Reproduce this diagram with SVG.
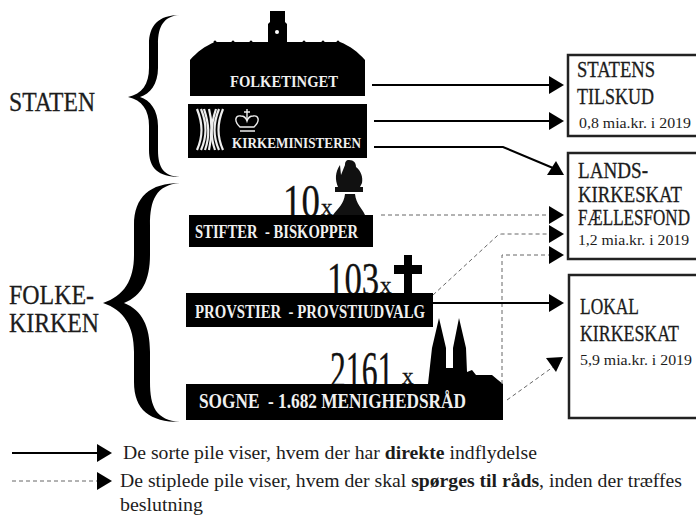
<svg xmlns="http://www.w3.org/2000/svg" width="696" height="515" viewBox="0 0 696 515">
<style>
text{font-family:"Liberation Serif","DejaVu Serif",serif;fill:#1c1c1c}
.w{fill:#f0f0f0;font-weight:bold}
.side{font-size:28px;stroke:#1c1c1c;stroke-width:.3}
.big{font-size:24px;stroke:#1c1c1c;stroke-width:.3}
.small{font-size:15px}
.num{fill:#111;stroke:#111;stroke-width:.3}
.leg{font-size:18px}
.box{fill:#fff;stroke:#222;stroke-width:2.5}
.solid{fill:none;stroke:#000;stroke-width:2}
.dash{fill:none;stroke:#666;stroke-width:1;stroke-dasharray:4 3}
.head{fill:#000}
</style>
<defs>
<marker id="ah" markerUnits="userSpaceOnUse" markerWidth="16" markerHeight="20" refX="1" refY="9" orient="auto"><path d="M0 0L15 9L0 18Z" fill="#000"/></marker>
</defs>
<rect width="696" height="515" fill="#fff"/>
<g id="staten"><text class="side" x="9" y="111" textLength="86" lengthAdjust="spacingAndGlyphs">STATEN</text>
<path d="M180 15C164 16 158 26 158 44V68C158 84 150 94 140 97C150 100 158 110 158 126V150C158 168 164 176 180 177C158 177 149 168 149 150V126C149 110 142 100 128 97C142 94 149 84 149 68V44C149 26 158 15 180 15Z" fill="#000"/></g>
<g id="folkekirken"><text class="side" x="9" y="304" textLength="85" lengthAdjust="spacingAndGlyphs">FOLKE-</text><text class="side" x="9" y="332" textLength="90" lengthAdjust="spacingAndGlyphs">KIRKEN</text>
<path d="M180 183C156 185 150 200 150 225V255C150 280 142 296 124 303C142 310 150 326 150 352V382C150 407 156 420 180 422C150 422 134 410 134 382V352C134 326 124 310 103 303C124 296 134 280 134 255V225C134 197 150 183 180 183Z" fill="#000"/></g>
<g id="folketinget">
<path d="M270 11H285V22L287 24V42H340C350 46 358 52 365 60V96H190V60C197 52 205 46 215 42H268V24L270 22Z" fill="#000"/>
<g fill="#000"><circle cx="215" cy="42" r="1.5"/><circle cx="233" cy="42" r="1.5"/><circle cx="251" cy="42" r="1.5"/><circle cx="304" cy="42" r="1.5"/><circle cx="323" cy="42" r="1.5"/><circle cx="338" cy="42" r="1.5"/></g>
<circle cx="277" cy="32" r="2" fill="#fff"/>
<text class="w" x="230" y="87" font-size="16" textLength="108" lengthAdjust="spacingAndGlyphs">FOLKETINGET</text></g>
<g id="kirkeministeren"><rect x="188" y="104" width="179" height="54" fill="#000"/>
<g fill="none" stroke="#eee" stroke-width="2.2"><path d="M197 109C203 124 203 136 197 150M201 109C207 124 207 136 201 150M204 109C209 124 210 136 205 150"/><path d="M223 109C217 124 217 136 223 150M219 109C213 124 213 136 219 150M216 109C211 124 210 136 215 150"/><path d="M209 109C212 120 212 136 209 150"/></g>
<g fill="none" stroke="#eee" stroke-width="1.4"><path d="M240 127C233 120 236 115 241 116C244 116 246 118 247 121C248 118 250 116 253 116C258 115 261 120 254 127Z"/><path d="M240 131H255M247 109V120M244 112H250"/></g>
<text class="w" x="232" y="148" font-size="15" textLength="129" lengthAdjust="spacingAndGlyphs">KIRKEMINISTEREN</text></g>
<g id="stifter">
<text class="num" transform="translate(283 217) scale(.8 1)" font-size="46">10</text><text class="num" x="321" y="215" font-size="23">x</text>
<path d="M349 160C354 160 356 163 356 167C361 171 363 177 362 183L360 187H363V192H335V187H338C335 180 335 172 340 165L341 175L345 165C345 162 346 160 349 160ZM345 194H355C356 204 362 208 365 215H333C338 208 344 204 345 194Z" fill="#111"/>
<rect x="189" y="215" width="184" height="32" fill="#000"/>
<text class="w" xml:space="preserve" x="195" y="238" font-size="18" textLength="163" lengthAdjust="spacingAndGlyphs">STIFTER  - BISKOPPER</text></g>
<g id="provstier">
<text class="num" transform="translate(327 295) scale(.74 1)" font-size="47">103</text><text class="num" x="380" y="293" font-size="23">x</text>
<path d="M404 255H412V265H422V274H412V293H404V274H394V265H404Z" fill="#000"/>
<rect x="186" y="293" width="247" height="34" fill="#000"/>
<text class="w" xml:space="preserve" x="195" y="318" font-size="18" textLength="230" lengthAdjust="spacingAndGlyphs">PROVSTIER  - PROVSTIUDVALG</text></g>
<g id="sogne">
<text class="num" transform="translate(330 388) scale(.61 1)" font-size="52">2161</text><text class="num" x="402" y="384" font-size="23">x</text>
<path d="M428 384L432 348L439 318L446 348V368H453V348L459 318L466 348L467 372L472 370L476 375H492L498 380L503 384Z" fill="#000"/>
<rect x="186" y="384" width="317" height="36" fill="#000"/>
<text class="w" xml:space="preserve" x="199" y="408" font-size="20" textLength="267" lengthAdjust="spacingAndGlyphs">SOGNE  - 1.682 MENIGHEDSRÅD</text></g>
<g id="statens"><path class="box" d="M696 55H568V136H696"/>
<text class="big" x="577" y="77" font-size="22" textLength="78" lengthAdjust="spacingAndGlyphs">STATENS</text><text class="big" x="577" y="104" textLength="77" lengthAdjust="spacingAndGlyphs">TILSKUD</text><text class="small" x="579" y="128" textLength="112" lengthAdjust="spacingAndGlyphs">0,8 mia.kr. i 2019</text></g>
<g id="landskirkeskat"><path class="box" d="M696 153H568V259H696"/>
<text class="big" x="578" y="178" textLength="70" lengthAdjust="spacingAndGlyphs">LANDS-</text><text class="big" transform="translate(578 202) scale(.78 1)">KIRKESKAT</text><text class="big" transform="translate(578 225) scale(.712 1)">FÆLLESFOND</text><text class="small" x="578" y="245" textLength="111" lengthAdjust="spacingAndGlyphs">1,2 mia.kr. i 2019</text></g>
<g id="lokal"><path class="box" d="M696 275H569V418H696"/>
<text class="big" x="580" y="314" textLength="59" lengthAdjust="spacingAndGlyphs">LOKAL</text><text class="big" transform="translate(580 341) scale(.743 1)">KIRKESKAT</text><text class="small" x="580" y="365" textLength="112" lengthAdjust="spacingAndGlyphs">5,9 mia.kr. i 2019</text></g>
<g id="connectors">
<path class="solid" d="M372 85H550" marker-end="url(#ah)"/>
<path class="solid" d="M374 121H550" marker-end="url(#ah)"/>
<path class="solid" d="M374 147H503L553 168"/>
<polygon class="head" points="556,161 564,175 547,175"/>
<path class="dash" d="M381 215H550" marker-end="url(#ah)"/>
<path class="dash" d="M433 295L497 236Q499 234 502 234H550" marker-end="url(#ah)"/>
<path class="dash" d="M502 384V255H550" marker-end="url(#ah)"/>
<path class="solid" d="M433 303H550" marker-end="url(#ah)"/>
<path class="dash" d="M507 400L553 367"/>
<polygon class="head" points="546,358 563,357 556,372"/>
<path class="solid" d="M12 453H98" marker-end="url(#ah)"/>
<path class="dash" d="M12 481H98" stroke-dasharray="2 2" marker-end="url(#ah)"/>
</g>
<g id="legend">
<text class="leg" x="123" y="459" textLength="414" lengthAdjust="spacingAndGlyphs">De sorte pile viser, hvem der har <tspan font-weight="bold">direkte</tspan> indflydelse</text>
<text class="leg" x="120" y="487" textLength="562" lengthAdjust="spacingAndGlyphs">De stiplede pile viser, hvem der skal <tspan font-weight="bold">spørges til råds</tspan>, inden der træffes</text>
<text class="leg" x="120" y="511" textLength="83" lengthAdjust="spacingAndGlyphs">beslutning</text>
</g>
</svg>
